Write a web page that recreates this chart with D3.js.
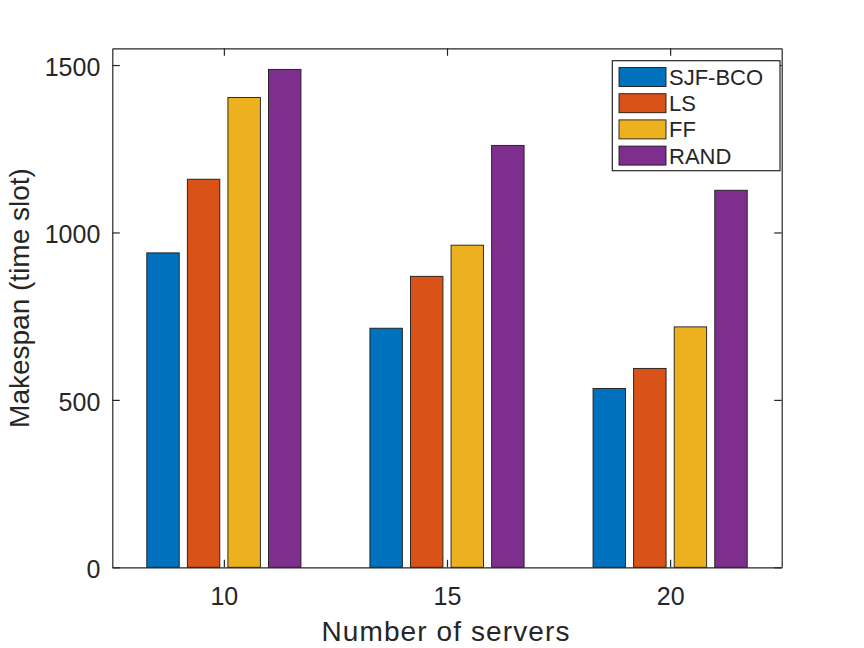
<!DOCTYPE html>
<html>
<head>
<meta charset="utf-8">
<script src="https://cdn.jsdelivr.net/npm/d3@7"></script>
<style>
  body { margin: 0; background: #fff; }
  text { font-family: "Liberation Sans", Arial, Helvetica, sans-serif; fill: #262626; }
</style>
</head>
<body>
<svg id="canvas"></svg>
<script>
// values
const servers = ['10', '15', '20']
const methods = ['SJF-BCO', 'LS', 'FF', 'RAND']
const sjfBco = [939, 714, 534]
const ls = [1159, 869, 594]
const ff = [1403, 962, 718]
const rand = [1487, 1260, 1126]
const yTicks = [0, 500, 1000, 1500]
const colors = ['#0072BD', '#D95319', '#EDB120', '#7E2F8E']

const series = [sjfBco, ls, ff, rand]

let width = 864,
height = 648

let canvas = d3.select('#canvas')
.attr('width', width)
.attr('height', height)

let axLeft = 112.3, axRight = 781.7, axTop = 48.3, axBottom = 567.3

let x = d3.scaleLinear().domain([0.5, servers.length + 0.5]).range([axLeft, axRight])
let y = d3.scaleLinear().domain([0, 1550]).range([axBottom, axTop])

// matlab grouped bar layout
let nb = methods.length
let groupWidth = Math.min(0.8, nb / (nb + 1.5))
let barWidth = groupWidth / nb * 0.8
let offset = i => -groupWidth / 2 + (2 * i + 1) * groupWidth / (2 * nb)

let bars = []
series.forEach((vals, si) => {
    vals.forEach((v, gi) => bars.push({ s: si, g: gi, v: v }))
})

canvas.append('g')
.selectAll('rect')
.data(bars)
.enter().append('rect')
.attr('x', d => x(d.g + 1 + offset(d.s) - barWidth / 2))
.attr('width', d => x(barWidth) - x(0))
.attr('y', d => y(d.v))
.attr('height', d => y(0) - y(d.v))
.attr('fill', d => colors[d.s])
.attr('stroke', '#1a1a1a')
.attr('stroke-width', 0.9)

// axes, ticks inward on all sides
let tickLen = 7.5
let xAxisB = d3.axisBottom(x).tickValues(d3.range(1, servers.length + 1))
    .tickFormat(d => servers[d - 1]).tickSizeInner(-tickLen).tickSizeOuter(0).tickPadding(20)
let xAxisT = d3.axisTop(x).tickValues(d3.range(1, servers.length + 1))
    .tickFormat('').tickSizeInner(-tickLen).tickSizeOuter(0)
let yAxisL = d3.axisLeft(y).tickValues(yTicks).tickFormat(d3.format('d'))
    .tickSizeInner(-tickLen).tickSizeOuter(0).tickPadding(12)
let yAxisR = d3.axisRight(y).tickValues(yTicks).tickFormat('').tickSizeInner(-tickLen).tickSizeOuter(0)

let styleAxis = g => {
    g.select('.domain').attr('stroke', '#262626').attr('stroke-width', 1.2)
    g.selectAll('.tick line').attr('stroke', '#262626').attr('stroke-width', 1.2)
    g.selectAll('.tick text').attr('fill', '#262626')
        .style('font-family', '"Liberation Sans", Arial, sans-serif').style('font-size', '25px')
}

canvas.append('g').attr('transform', `translate(0,${axBottom})`).call(xAxisB).call(styleAxis)
canvas.append('g').attr('transform', `translate(0,${axTop})`).call(xAxisT).call(styleAxis)
canvas.append('g').attr('transform', `translate(${axLeft},0)`).call(yAxisL).call(styleAxis)
.selectAll('.tick text').attr('dy', '0.42em')
canvas.append('g').attr('transform', `translate(${axRight},0)`).call(yAxisR).call(styleAxis)

// axis titles
canvas.append('text')
.attr('x', 446)
.attr('y', 641)
.attr('text-anchor', 'middle')
.style('font-size', '28px')
.style('letter-spacing', '1.1px')
.text('Number of servers')

canvas.append('text')
.attr('transform', `translate(29,298) rotate(-90)`)
.attr('text-anchor', 'middle')
.style('font-size', '28px')
.text('Makespan (time slot)')

// legend
let legend = canvas.append('g')
legend.append('rect')
.attr('x', 612.3).attr('y', 60.7)
.attr('width', 167.7).attr('height', 110)
.attr('fill', '#fff')
.attr('stroke', '#262626')
.attr('stroke-width', 1.2)

let rows = legend.selectAll('g.row')
.data(methods)
.enter().append('g')
.attr('class', 'row')
.attr('transform', (d, i) => `translate(0,${77 + i * 26.2})`)

rows.append('rect')
.attr('x', 619).attr('y', -9.5)
.attr('width', 47).attr('height', 19)
.attr('fill', (d, i) => colors[i])
.attr('stroke', '#1a1a1a')
.attr('stroke-width', 0.9)

rows.append('text')
.attr('x', 669)
.attr('y', 8)
.style('font-size', '22px')
.text(d => d)
</script>
</body>
</html>
